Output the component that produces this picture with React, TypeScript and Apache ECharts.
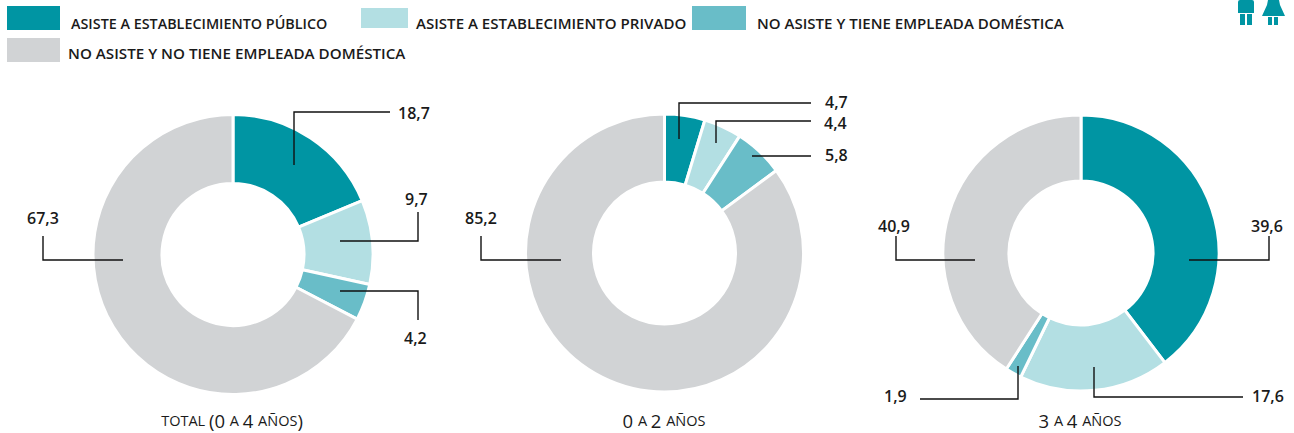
import React, { useEffect, useRef } from "react";
import * as echarts from "echarts";

const categories = [
  "ASISTE A ESTABLECIMIENTO PÚBLICO",
  "ASISTE A ESTABLECIMIENTO PRIVADO",
  "NO ASISTE Y TIENE EMPLEADA DOMÉSTICA",
  "NO ASISTE Y NO TIENE EMPLEADA DOMÉSTICA",
];
const colors = ["#0095a3", "#b3dfe3", "#69bdc8", "#d1d3d5"];
const totalValues = [18.7, 9.7, 4.2, 67.3];
const youngValues = [4.7, 4.4, 5.8, 85.2];
const olderValues = [39.6, 17.6, 1.9, 40.9];

const FONT = "'Open Sans', 'Noto Sans', sans-serif";
const INK = "#1a1a1a";

type Pt = [number, number];
const panels = [
  {
    values: totalValues, center: [233, 254.5], r: [71, 140],
    labels: [[398, 113, "left"], [405, 199, "left"], [404, 338, "left"], [27, 218, "left"]],
    lines: [
      [[294, 165], [294, 112], [390, 112]],
      [[340, 241], [418, 241], [418, 212]],
      [[340, 291], [418, 291], [418, 320]],
      [[123, 260], [43, 260], [43, 236]],
    ] as Pt[][],
  },
  {
    values: youngValues, center: [664.5, 253], r: [71, 139],
    labels: [[825, 102, "left"], [824, 123, "left"], [825, 155, "left"], [465, 218, "left"]],
    lines: [
      [[679, 139], [679, 103], [811, 103]],
      [[716, 143], [716, 121], [811, 121]],
      [[752, 156], [811, 156]],
      [[561, 260], [481, 260], [481, 236]],
    ] as Pt[][],
  },
  {
    values: olderValues, center: [1081, 253], r: [72, 138],
    labels: [[1251, 226, "left"], [1252, 396, "left"], [884, 396, "left"], [878, 226, "left"]],
    lines: [
      [[1189, 260], [1269, 260], [1269, 236]],
      [[1094, 367], [1094, 397], [1243, 397]],
      [[1018, 366], [1018, 399], [920, 399]],
      [[975, 260], [896, 260], [896, 236]],
    ] as Pt[][],
  },
];

// h = swatch height, box = legend row height (the text centres on the row, below the swatch's centre)
const legendSlots = [
  { left: 7, top: 6, w: 53, h: 24, box: 34, gap: 11, size: 14.35 },
  { left: 361, top: 8, w: 47, h: 20, box: 30, gap: 8, size: 15.07 },
  { left: 692, top: 6, w: 54, h: 24, box: 34, gap: 11, size: 15.06 },
  { left: 7, top: 38, w: 53, h: 24, box: 30, gap: 8, size: 15.2 },
];

const titleParts = [
  { x: 232, parts: [["s", "TOTAL "], ["b", "(0 "], ["s", "A "], ["b", "4 "], ["s", "AÑOS"], ["b", ")"]] },
  { x: 664, parts: [["b", "0 "], ["s", "A "], ["b", "2 "], ["s", "AÑOS"]] },
  { x: 1080, parts: [["b", "3 "], ["s", "A "], ["b", "4 "], ["s", "AÑOS"]] },
];

echarts.graphic.registerShape(
  "manIcon",
  echarts.graphic.extendPath(
    "M1240 0H1252Q1254 0 1254 2V13H1238V2Q1238 0 1240 0ZM1240 14H1245V25H1240ZM1247 14H1252V25H1247Z",
    {}
  ) as any
);
echarts.graphic.registerShape(
  "womanIcon",
  echarts.graphic.extendPath(
    "M1268 0H1279L1280 5L1285 16H1262L1267 5ZM1268 17H1272V25H1268ZM1274 17H1278V25H1274Z",
    {}
  ) as any
);

export default function App() {
  const ref = useRef<HTMLDivElement>(null);
  useEffect(() => {
    const chart = echarts.init(ref.current!, null, { renderer: "svg" });
    chart.setOption({
      animation: false,
      color: colors,
      legend: categories.map((name, i) => {
        const s = legendSlots[i];
        return {
          data: [name],
          left: s.left,
          top: s.top,
          padding: 0,
          icon: `path://M0 0H${s.w}V${s.h}H0ZM0 ${s.box}H${s.w}`,
          itemWidth: s.w,
          itemHeight: s.box,
          itemGap: 0,
          selectedMode: false,
          itemStyle: { borderWidth: 0 },
          textStyle: {
            fontFamily: FONT, fontSize: s.size, fontWeight: 600, color: INK,
            padding: [0, 0, 0, s.gap - 5],
          },
        };
      }),
      title: titleParts.map((t) => ({
        left: t.x,
        top: 411,
        padding: 0,
        textAlign: "center",
        text: t.parts.map(([k, s]) => `{${k}|${s}}`).join(""),
        textStyle: {
          fontWeight: "normal",
          rich: {
            s: { fontFamily: FONT, fontSize: 14.5, fontWeight: 500, color: INK },
            b: { fontFamily: FONT, fontSize: 18.5, fontWeight: 500, color: INK },
          },
        },
      })),
      series: panels.map((p) => ({
        type: "pie",
        center: p.center,
        radius: p.r,
        startAngle: 90,
        clockwise: true,
        avoidLabelOverlap: false,
        data: p.values.map((value, i) => ({ name: categories[i], value })),
        itemStyle: { borderColor: "#ffffff", borderWidth: 3 },
        emphasis: { disabled: true },
        label: {
          show: true,
          position: "outside",
          formatter: (q: any) => String(q.value).replace(".", ","),
          fontFamily: FONT, fontSize: 16, fontWeight: 600, color: INK,
        },
        labelLine: { show: false },
        labelLayout: (q: any) => {
          const [x, y, align] = p.labels[q.dataIndex] as [number, number, string];
          return { x, y, align, verticalAlign: "middle", hideOverlap: false };
        },
      })),
      graphic: {
        elements: [
          ...panels.flatMap((p) =>
            p.lines.map((points) => ({
              type: "polyline",
              z: 100,
              silent: true,
              shape: { points },
              style: { stroke: "#111111", lineWidth: 1.4, fill: null },
            }))
          ),
          { type: "manIcon", z: 100, style: { fill: "#0095a3" } },
          { type: "womanIcon", z: 100, style: { fill: "#0095a3" } },
        ],
      },
    });
    return () => chart.dispose();
  }, []);
  return <div ref={ref} style={{ position: "absolute", left: 0, top: 0, width: 1294, height: 433 }} />;
}
